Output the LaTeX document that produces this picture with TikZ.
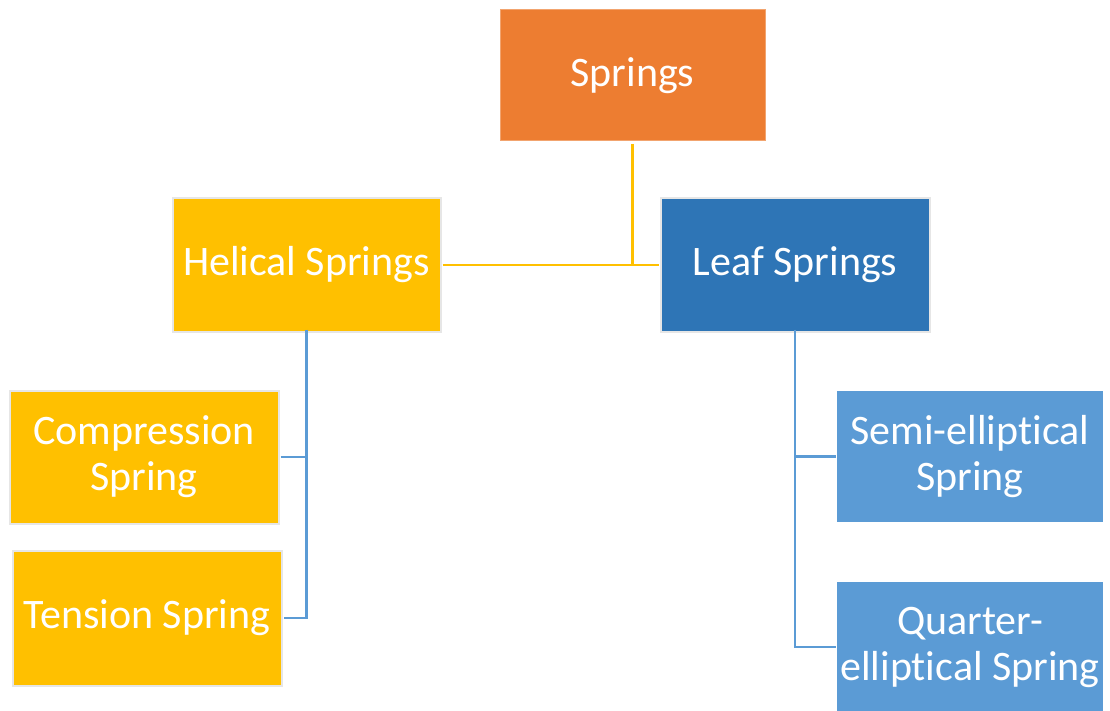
\documentclass[tikz,border=0pt]{standalone}
\usepackage{fontspec}
\setmainfont[RawFeature={-liga;-calt;-clig;-dlig}]{Carlito}
\definecolor{orng}{HTML}{ED7D31}
\definecolor{gold}{HTML}{FFC000}
\definecolor{dblue}{HTML}{2E75B6}
\definecolor{lblue}{HTML}{5B9BD5}
\definecolor{bord}{HTML}{E6E6E6}
\tikzset{
  box/.style={rectangle, inner sep=0pt, outer sep=0pt, text=white, align=center,
    font=\fontsize{42}{46}\selectfont, line width=2pt},
  goldbox/.style={box, fill=gold, draw=bord},
  conn/.style={line width=2.4pt},
}
\begin{document}
\begin{tikzpicture}[x=1pt,y=-1pt]
\useasboundingbox (0,0) rectangle (1110,711);
\node[box, fill=orng, draw=orng!70!white, line width=1pt, minimum width=265pt, minimum height=131pt] (springs) at (632.5,75.5) {Springs};
\node[goldbox, minimum width=268pt, minimum height=133pt] (helical) at (306.5,265) {Helical Springs};
\node[box, fill=dblue, draw=bord, minimum width=269pt, minimum height=133pt] (leaf) at (795,265) {Leaf Springs};
\node[goldbox, minimum width=269pt, minimum height=133pt] (comp) at (144,457) {Compression\\Spring};
\node[goldbox, minimum width=269pt, minimum height=135pt] (tens) at (147,618) {Tension Spring};
\node[box, fill=lblue, minimum width=266pt, minimum height=131pt] (semi) at (970,456.5) {Semi-elliptical\\Spring};
\node[box, fill=lblue, minimum width=266pt, minimum height=130pt] (quart) at (970,647) {Quarter-\\elliptical Spring};
\draw[conn, gold] (springs.south) ++(0,3) -- (springs.south |- helical.east);
\draw[conn, gold] (helical.east) ++(2,0) -- ([xshift=-2pt]leaf.west);
\draw[conn, lblue] ([yshift=2pt]helical.south) -- (helical.south |- tens.east) -- ([xshift=2pt]tens.east);
\draw[conn, lblue] ([xshift=2pt]comp.east) -- (comp.east -| helical.south);
\draw[conn, lblue] ([yshift=2pt]leaf.south) |- ([xshift=-1pt]quart.west);
\draw[conn, lblue] ([xshift=-1pt]semi.west) -- (semi.west -| leaf.south);
\end{tikzpicture}
\end{document}
